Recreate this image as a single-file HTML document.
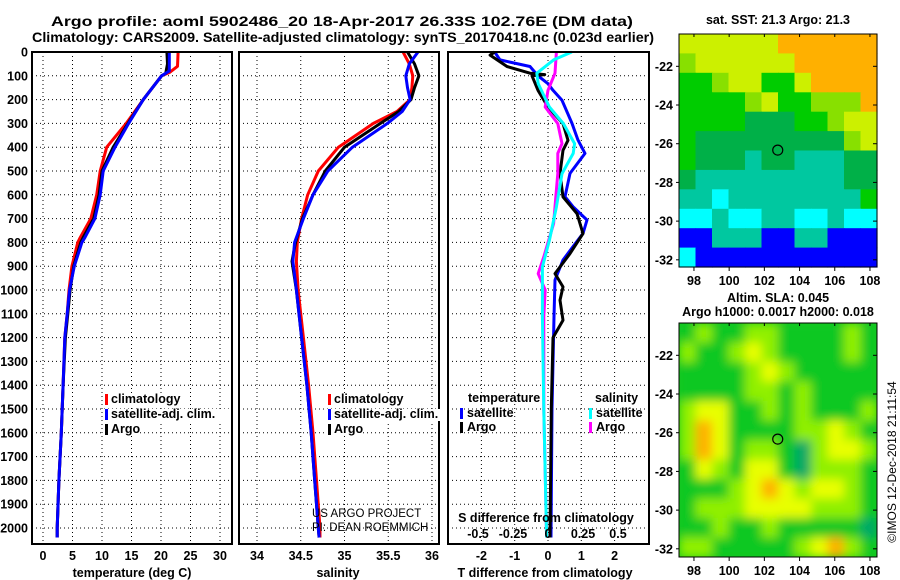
<!DOCTYPE html>
<html><head><meta charset="utf-8"><style>
html,body{margin:0;padding:0;background:#fff;}
svg{display:block;font-family:"Liberation Sans",sans-serif;}
</style></head><body>
<svg id="c" width="900" height="580" viewBox="0 0 900 580" xmlns="http://www.w3.org/2000/svg">
<defs>
<filter id="blur" x="-10%" y="-10%" width="120%" height="120%"><feGaussianBlur stdDeviation="5"/></filter>
<clipPath id="clipSla"><rect x="679" y="323" width="198" height="234"/></clipPath>
</defs>
<text x="342" y="26" text-anchor="middle" style="font-weight:bold;font-size:13.5px" textLength="582" lengthAdjust="spacingAndGlyphs">Argo profile: aoml 5902486_20 18-Apr-2017 26.33S 102.76E (DM data)</text>
<text x="343" y="42" text-anchor="middle" style="font-weight:bold;font-size:13.5px" textLength="622" lengthAdjust="spacingAndGlyphs">Climatology: CARS2009. Satellite-adjusted climatology: synTS_20170418.nc (0.023d earlier)</text>
<g id="g"></g>
</svg>
<script>
// ---- data (depth in dbar) ----
const depthLabels = [0,100,200,300,400,500,600,700,800,900,1000,1100,1200,1300,1400,1500,1600,1700,1800,1900,2000];
const tempTicks = [0,5,10,15,20,25,30];
const salTicks = ["34","34.5","35","35.5","36"];
const tdiffTicks = [-2,-1,0,1,2];
const sdiffTicks = ["-0.5","-0.25","0","0.25","0.5"];

const tClimDepth = [0,60,85,100,200,300,400,500,600,700,780,800,900,1000,1100,1200,1400,1600,1800,2000,2040];
const tClim      = [22.9,22.8,21.5,20.1,17.0,14.1,10.8,9.7,9.1,8.1,6.3,5.9,4.9,4.4,4.1,3.7,3.4,3.1,2.7,2.4,2.4];
const tSatDepth  = [0,80,100,200,300,400,500,600,700,780,800,900,1000,1100,1200,1400,1600,1800,2000,2040];
const tSat       = [21.4,21.4,20.1,17.0,14.5,12.2,10.2,9.7,8.8,7.1,6.6,5.3,4.5,4.1,3.7,3.4,3.1,2.7,2.4,2.4];
const tArgoDepth = [0,50,90,100,200,300,400,500,600,700,780,800,900,1000,1100,1200,1400,1600,1800,2000,2040];
const tArgo      = [21.0,21.1,20.8,20.1,17.0,14.4,11.9,10.0,9.5,8.6,6.8,6.4,5.2,4.6,4.2,3.8,3.4,3.1,2.7,2.4,2.4];

const sDepth   = [0,50,100,150,200,250,300,400,500,600,700,800,880,1000,1200,1400,1600,1800,2000,2040];
const sClim    = [35.67,35.74,35.78,35.77,35.75,35.60,35.33,34.93,34.70,34.58,34.51,34.46,34.45,34.47,34.53,34.59,34.64,34.68,34.72,34.72];
const sSat     = [35.84,35.74,35.70,35.72,35.75,35.66,35.49,35.09,34.81,34.64,34.53,34.43,34.41,34.45,34.51,34.57,34.62,34.66,34.70,34.71];
const sArgo    = [35.72,35.80,35.85,35.80,35.76,35.62,35.41,35.00,34.78,34.64,34.52,34.44,34.40,34.45,34.51,34.57,34.62,34.66,34.70,34.71];

const dTDepthSat  = [0,33,61,100,133,161,203,300,370,426,510,608,650,706,762,818,874,958,1112,1500,2040];
const dTSat       = [-1.6,-1.44,-0.54,-0.3,0.0,0.15,0.42,0.72,0.9,1.11,0.66,0.51,0.75,1.17,1.05,0.75,0.45,0.21,0.18,0.12,0.09];
const dTDepthArgo = [0,13,61,89,95,100,161,231,301,371,413,511,609,679,763,847,931,987,1043,1127,1200,1500,2040];
const dTArgo      = [-1.6,-1.74,-1.23,-0.54,-0.1,-0.48,-0.3,0.0,0.45,0.6,0.45,0.36,0.45,0.87,1.05,0.66,0.21,0.45,0.36,0.45,0.15,0.1,0.06];
const dSDepthSat  = [0,33,89,133,231,301,385,426,511,651,791,903,1000,1112,1500,2040];
const dSSat       = [0.17,0.04,-0.08,-0.07,0.01,0.11,0.19,0.18,0.10,0.06,0.01,-0.04,-0.04,-0.04,-0.03,-0.01];
const dSDepthArgo = [0,89,161,231,301,385,426,511,580,721,861,931,1000,1112,1500,2040];
const dSArgo      = [0.06,0.05,0.0,-0.02,0.07,0.10,0.07,0.07,0.06,0.04,-0.03,-0.07,-0.02,-0.03,-0.03,-0.01];

const mapLatTicks = [-22,-24,-26,-28,-30,-32];
const mapLonTicks = [98,100,102,104,106,108];
const sstGrid = [
"YYYYYYOOOOOO","LYYYYYYOOOOO","GGLYYGGYOOOO","GGGGLYGGLLLO","GGGGDDDGGLYY","GDDDDDDDDDLY",
"GDDDTDDTTTDD","DTTTTTTTTTDD","TTCTTTTTTTTG","CCTCCTTCCTCC","BBTTTBBTTBBB","CBBBBBBBBBBB"];
const slaGrid = [
"GLGGLLGGGGLG","LGGLYLGGGGLG","GGGGLYLGGGGG","GGGGLLGLGGGG","LYYGGLGLGGGL","LOYGGGGLLYLG",
"LOYGLLGTLYYL","GYLGYYGTLLLG","GGGLYOYLYYLG","GLLLYYYYLLLG","GGLGGLGGGGGT","LLGGGGGLYOLG"];
const floatLon = 102.76, floatLat = -26.33;

// ---- geometry ----
const NS="http://www.w3.org/2000/svg";
const G=document.getElementById('g');
function el(t,a,p){const e=document.createElementNS(NS,t);for(const k in a)e.setAttribute(k,a[k]);(p||G).appendChild(e);return e;}
const topY=52, botY=544;
const yD = d => topY + d*0.238;
const P1={x0:32,x1:232}, P2={x0:239,x1:439}, P3={x0:448,x1:649};
const xT = t => 43 + t*5.9;
const xS = s => 257 + (s-34)*87.5;
const xDT = t => 548 + t*33.3;
const xDS = s => 548 + s*140;

function frame(P,name){
  const r=el('rect',{x:P.x0,y:topY,width:P.x1-P.x0,height:botY-topY,fill:'none',stroke:'#000','stroke-width':2});
  
  
}
function hgrid(P){
  depthLabels.forEach(d=>{const l=el('line',{x1:P.x0,x2:P.x1,y1:yD(d),y2:yD(d),stroke:'#000','stroke-width':1,'stroke-dasharray':'1,3'});
  
  });
}
function vgrid(xs){
  xs.forEach(x=>{const l=el('line',{x1:x,x2:x,y1:topY,y2:botY,stroke:'#000','stroke-width':1,'stroke-dasharray':'1,3'});
  
  });
}
function line(xs,ds,fx,color,name){
  const pts=xs.map((v,i)=>fx(v).toFixed(1)+','+yD(ds[i]).toFixed(1)).join(' ');
  const p=el('polyline',{points:pts,fill:'none',stroke:color,'stroke-width':3,'stroke-linejoin':'round'});
  
  
}
function txt(x,y,s,opts){
  const t=el('text',Object.assign({x:x,y:y,'font-weight':'bold','font-size':12.5},opts||{}));
  t.textContent=s;return t;
}

// panel 1
hgrid(P1); vgrid(tempTicks.map(xT));
line(tClim,tClimDepth,xT,'#ff0000','temp-climatology-line');
line(tArgo,tArgoDepth,xT,'#000000','temp-argo-line');
line(tSat,tSatDepth,xT,'#0000ff','temp-satellite-line');
frame(P1,'temperature-panel');
depthLabels.forEach(d=>{const t=txt(28,yD(d)+4.5,String(d),{'text-anchor':'end'});

});
tempTicks.forEach(v=>{const t=txt(xT(v),560,String(v),{'text-anchor':'middle'});

});
let t1=txt(132,577,'temperature (deg C)',{'text-anchor':'middle'});



// panel 2
hgrid(P2); vgrid(salTicks.map(s=>xS(parseFloat(s))));
line(sClim,sDepth,xS,'#ff0000','salinity-climatology-line');
line(sArgo,sDepth,xS,'#000000','salinity-argo-line');
line(sSat,sDepth,xS,'#0000ff','salinity-satellite-line');
frame(P2,'salinity-panel');
salTicks.forEach(v=>{const t=txt(xS(parseFloat(v)),560,v,{'text-anchor':'middle'});

});
let t2=txt(338,577,'salinity',{'text-anchor':'middle'});


let c1=txt(312,517,'US ARGO PROJECT',{'font-weight':'normal','font-size':11.5});


let c2=txt(312,531,'PI: DEAN ROEMMICH',{'font-weight':'normal','font-size':11.5});



// legends for panels 1 & 2
function legend(x,y,items){
  items.forEach((it,i)=>{
    const yy=y+i*15;
    el('rect',{x:x-2,y:yy-9,width:Math.min(it[0].length*6.4+10,126),height:12,fill:'#fff'});
    const b=el('rect',{x:x,y:yy-9,width:3,height:11,fill:it[1]});
    
    
    const t=txt(x+6,yy,it[0]);
    
    
  });
}
legend(105,403,[['climatology','#ff0000'],['satellite-adj. clim.','#0000ff'],['Argo','#000']]);
legend(328,403,[['climatology','#ff0000'],['satellite-adj. clim.','#0000ff'],['Argo','#000']]);

// panel 3
hgrid(P3); vgrid(tdiffTicks.map(xDT));
line(dTSat,dTDepthSat,xDT,'#0000ff','tdiff-satellite-line');
line(dTArgo,dTDepthArgo,xDT,'#000000','tdiff-argo-line');
line(dSArgo,dSDepthArgo,xDS,'#ff00ff','sdiff-argo-line');
line(dSSat,dSDepthSat,xDS,'#00ffff','sdiff-satellite-line');
frame(P3,'difference-panel');
tdiffTicks.forEach(v=>{const t=txt(xDT(v),560,String(v),{'text-anchor':'middle'});

});
sdiffTicks.forEach(v=>{const t=txt(xDS(parseFloat(v)),538,v,{'text-anchor':'middle'});

});
let t3=txt(546,522,'S difference from climatology',{'text-anchor':'middle'});


let t4=txt(545,577,'T difference from climatology',{'text-anchor':'middle'});


let lh1=txt(468,402,'temperature');


let lh2=txt(595,402,'salinity');


function legend3(x,y,items){
  items.forEach((it,i)=>{
    const yy=y+i*14;
    const b=el('rect',{x:x,y:yy-9,width:3,height:11,fill:it[1]});
    
    
    const t=txt(x+7,yy,it[0]);
    
    
  });
}
legend3(460,417,[['satellite','#0000ff'],['Argo','#000']]);
legend3(589,417,[['satellite','#00ffff'],['Argo','#ff00ff']]);

// ---- maps ----
const lonX = (lon,m) => m.x0 + (lon-97.15)*17.6;
const latY = (lat,m) => m.y0 + (-20.33-lat)*19.35;
const M1={x0:679,y0:34,w:198,h:233}, M2={x0:679,y0:323,w:198,h:234};
const sstCol={O:'#ffb000',Y:'#ccf000',L:'#88e000',G:'#00cc00',D:'#00b048',T:'#00c8a0',C:'#00ffff',B:'#0000ff'};
const slaCol={G:'#10c820',L:'#90f000',Y:'#e8ff00',O:'#ffb000',T:'#00a868'};
function mapGrid(M,grid,cols,parent,name){
  const rw=M.w/12, rh=M.h/12;
  grid.forEach((row,r)=>{[...row].forEach((ch,c)=>{
    const e=el('rect',{x:(M.x0+c*rw).toFixed(1),y:(M.y0+r*rh).toFixed(1),width:(rw+0.6).toFixed(1),height:(rh+0.6).toFixed(1),fill:cols[ch]},parent);
    
    
  });});
}
mapGrid(M1,sstGrid,sstCol,G,'sst-cell');
const slaG=el('g',{'clip-path':'url(#clipSla)'});
el('rect',{x:M2.x0,y:M2.y0,width:M2.w,height:M2.h,fill:'#10c820'},slaG);
const slaInner=el('g',{filter:'url(#blur)'},slaG);
mapGrid(M2,slaGrid,slaCol,slaInner,'sla-cell');
[M1,M2].forEach((M,i)=>{
  const f=el('rect',{x:M.x0,y:M.y0,width:M.w,height:M.h,fill:'none',stroke:'#000','stroke-width':1});
  
  
  const cc=el('circle',{cx:lonX(floatLon,M),cy:latY(floatLat,M),r:5,fill:'none',stroke:'#000','stroke-width':1.2});
  
  
  mapLatTicks.forEach(l=>{
    const y=latY(l,M);
    el('line',{x1:M.x0+M.w,x2:M.x0+M.w-4,y1:y,y2:y,stroke:'#000'});
    el('line',{x1:M.x0,x2:M.x0-3,y1:y,y2:y,stroke:'#000'});
    const t=txt(M.x0-6,y+4.5,String(l),{'text-anchor':'end'});
    
    
  });
  mapLonTicks.forEach(l=>{
    const x=lonX(l,M);
    el('line',{x1:x,x2:x,y1:M.y0+M.h,y2:M.y0+M.h+4,stroke:'#000'});
    el('line',{x1:x,x2:x,y1:M.y0,y2:M.y0+3,stroke:'#000'});
    const t=txt(x,M.y0+M.h+18,String(l),{'text-anchor':'middle'});
    
    
  });
});
let m1=txt(778,24,'sat. SST: 21.3 Argo: 21.3',{'text-anchor':'middle'});


let m2=txt(778,302,'Altim. SLA: 0.045',{'text-anchor':'middle'});


let m3=txt(778,316,'Argo h1000: 0.0017 h2000: 0.018',{'text-anchor':'middle'});


let cp=txt(0,0,'©IMOS 12-Dec-2018 21:11:54',{'font-weight':'normal','font-size':12,'text-anchor':'middle',transform:'translate(896,462) rotate(-90)'});


</script>
</body></html>
